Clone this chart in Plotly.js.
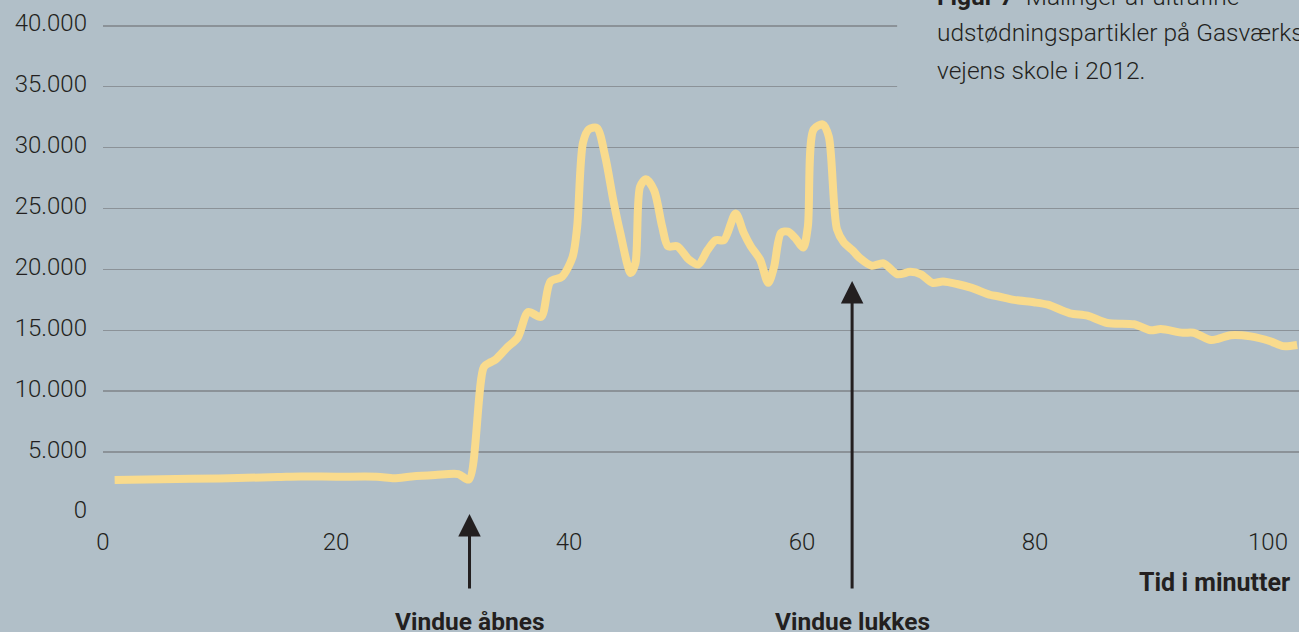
<!DOCTYPE html>
<html>
<head>
<meta charset="utf-8">
<script src="https://cdn.plot.ly/plotly-3.0.1.min.js"></script>
<style>
  html, body { margin: 0; padding: 0; background: #b1bfc8; }
  #chart { width: 1299px; height: 632px; }
</style>
</head>
<body>
<div id="chart"></div>
<script>
// Time in minutes
const minutes = [1, 5, 10, 15, 17, 20, 23.5, 25, 26.5, 28.5, 30.5, 31.4,
  32.7, 33.3, 33.7, 34.7, 35.6, 36.5, 37.6, 38.4, 39.4, 40.3, 40.7, 41.2, 41.7, 42.4,
  43.1, 43.8, 44.4, 45.3, 45.7, 46.1, 46.6, 47.3, 48.0, 48.5, 49.3, 50.3, 51.1, 51.9,
  52.6, 53.3, 54.3, 55.0, 55.6, 56.4, 57.1, 57.6, 58.2, 58.8, 59.4, 60.1, 60.5, 61.0,
  61.8, 62.3, 63.0, 63.6, 64.3, 65.0, 66.0, 67.0, 68.2, 69.3, 70.2, 71.2, 72.1, 73.3,
  74.5, 76.2, 76.8, 78.2, 79.9, 81.1, 83.0, 84.5, 86.2, 88.5, 89.9, 90.8, 92.7, 93.6,
  95.1, 95.7, 96.8, 98.5, 100.2, 101.3, 102.5];
// Ultrafine particles (count)
const particles = [2700, 2780, 2840, 2950, 3000, 2980, 2980, 2850, 3000, 3120, 3200, 2750,
  12000, 12400, 12600, 13600, 14400, 16500, 16100, 19000, 19400, 21000, 23500, 30400, 31500, 31600,
  29300, 25700, 23000, 19700, 20500, 26800, 27400, 26500, 23500, 21900, 21900, 20800, 20400, 21600,
  22400, 22400, 24600, 23000, 21900, 20800, 18900, 20200, 23000, 23100, 22600, 21800, 23500, 31500,
  31900, 30900, 23300, 22200, 21600, 20900, 20300, 20500, 19600, 19800, 19600, 18900, 19000, 18800,
  18500, 17900, 17800, 17500, 17300, 17100, 16400, 16200, 15600, 15500, 15000, 15100, 14800, 14800,
  14200, 14300, 14600, 14500, 14100, 13700, 13800];

const yTickVals = [0, 5000, 10000, 15000, 20000, 25000, 30000, 35000, 40000];
const yTickText = ['0', '5.000', '10.000', '15.000', '20.000', '25.000', '30.000', '35.000', '40.000'];
const xTickVals = [0, 20, 40, 60, 80, 100];
const xTickText = ['0', '20', '40', '60', '80', '100'];

const titleLines = ['<b>Figur 7</b>  Målinger af ultrafine', 'udstødningspartikler på Gasværks-', 'vejens skole i 2012.'];
const xAxisLabel = '<b>Tid i minutter</b>';
const eventLabels = ['<b>Vindue åbnes</b>', '<b>Vindue lukkes</b>'];
const eventMinutes = [31.46, 64.3];

const BG = '#b1bfc8';
const INK = '#231f20';
const FONT = 'Roboto, "Liberation Sans", sans-serif';

const trace = {
  x: minutes, y: particles, type: 'scatter', mode: 'lines',
  line: { color: '#f9db8d', width: 8, shape: 'spline', smoothing: 0.8 },
  hoverinfo: 'skip', cliponaxis: false
};

const layout = {
  width: 1299, height: 632,
  margin: { l: 103, r: 0, t: 24, b: 119 },
  paper_bgcolor: BG, plot_bgcolor: BG,
  showlegend: false,
  font: { family: FONT, color: INK, size: 22 },
  xaxis: {
    range: [0, 102.66], tickvals: xTickVals, ticktext: xTickText,
    showgrid: false, zeroline: false, showline: false, ticks: '',
    tickfont: { family: FONT, size: 24, color: INK, weight: 300 },
    ticklabelstandoff: 12, fixedrange: true
  },
  yaxis: {
    range: [0, 40150], tickvals: yTickVals, ticktext: yTickText,
    showgrid: true, gridcolor: '#8b9298', gridwidth: 1.5,
    zeroline: false, showline: false, ticks: '',
    tickfont: { family: FONT, size: 24, color: INK, weight: 300 },
    ticklabelstandoff: 15, ticklabelshift: -3, fixedrange: true
  },
  shapes: [{
    type: 'rect', xref: 'paper', yref: 'paper', layer: 'above',
    x0: 0.664, x1: 1.01, y0: 0.824, y1: 1.1,
    fillcolor: BG, line: { width: 0 }
  }],
  annotations: [
    { text: titleLines[0], xref: 'paper', yref: 'paper', x: 0.6957, y: 1.057, xanchor: 'left', yanchor: 'middle', showarrow: false, align: 'left', font: { family: FONT, size: 24.5, color: INK, weight: 300 } },
    { text: titleLines[1], xref: 'paper', yref: 'paper', x: 0.6957, y: 0.9816, xanchor: 'left', yanchor: 'middle', showarrow: false, align: 'left', font: { family: FONT, size: 24.5, color: INK, weight: 300 } },
    { text: titleLines[2], xref: 'paper', yref: 'paper', x: 0.6957, y: 0.9039, xanchor: 'left', yanchor: 'middle', showarrow: false, align: 'left', font: { family: FONT, size: 24.5, color: INK, weight: 300 } },
    { text: xAxisLabel, xref: 'paper', yref: 'paper', x: 0.994, y: -0.1431, xanchor: 'right', yanchor: 'middle', showarrow: false, font: { family: FONT, size: 25, color: INK } },
    { text: eventLabels[0], xref: 'x', yref: 'paper', x: eventMinutes[0], y: -0.2209, xanchor: 'center', yanchor: 'middle', showarrow: false, font: { family: FONT, size: 24.5, color: INK } },
    { text: eventLabels[1], xref: 'x', yref: 'paper', x: eventMinutes[1], y: -0.2209, xanchor: 'center', yanchor: 'middle', showarrow: false, font: { family: FONT, size: 24.5, color: INK } },
    { text: '', xref: 'x', yref: 'paper', x: eventMinutes[0], y: -0.002, ax: 0, ay: 76, showarrow: true, arrowhead: 2, arrowsize: 1.5, arrowwidth: 3, arrowcolor: INK },
    { text: '', xref: 'x', yref: 'paper', x: eventMinutes[1], y: 0.4744, ax: 0, ay: 309, showarrow: true, arrowhead: 2, arrowsize: 1.5, arrowwidth: 3, arrowcolor: INK }
  ]
};

Plotly.newPlot('chart', [trace], layout, { displayModeBar: false, staticPlot: true });
</script>
</body>
</html>
